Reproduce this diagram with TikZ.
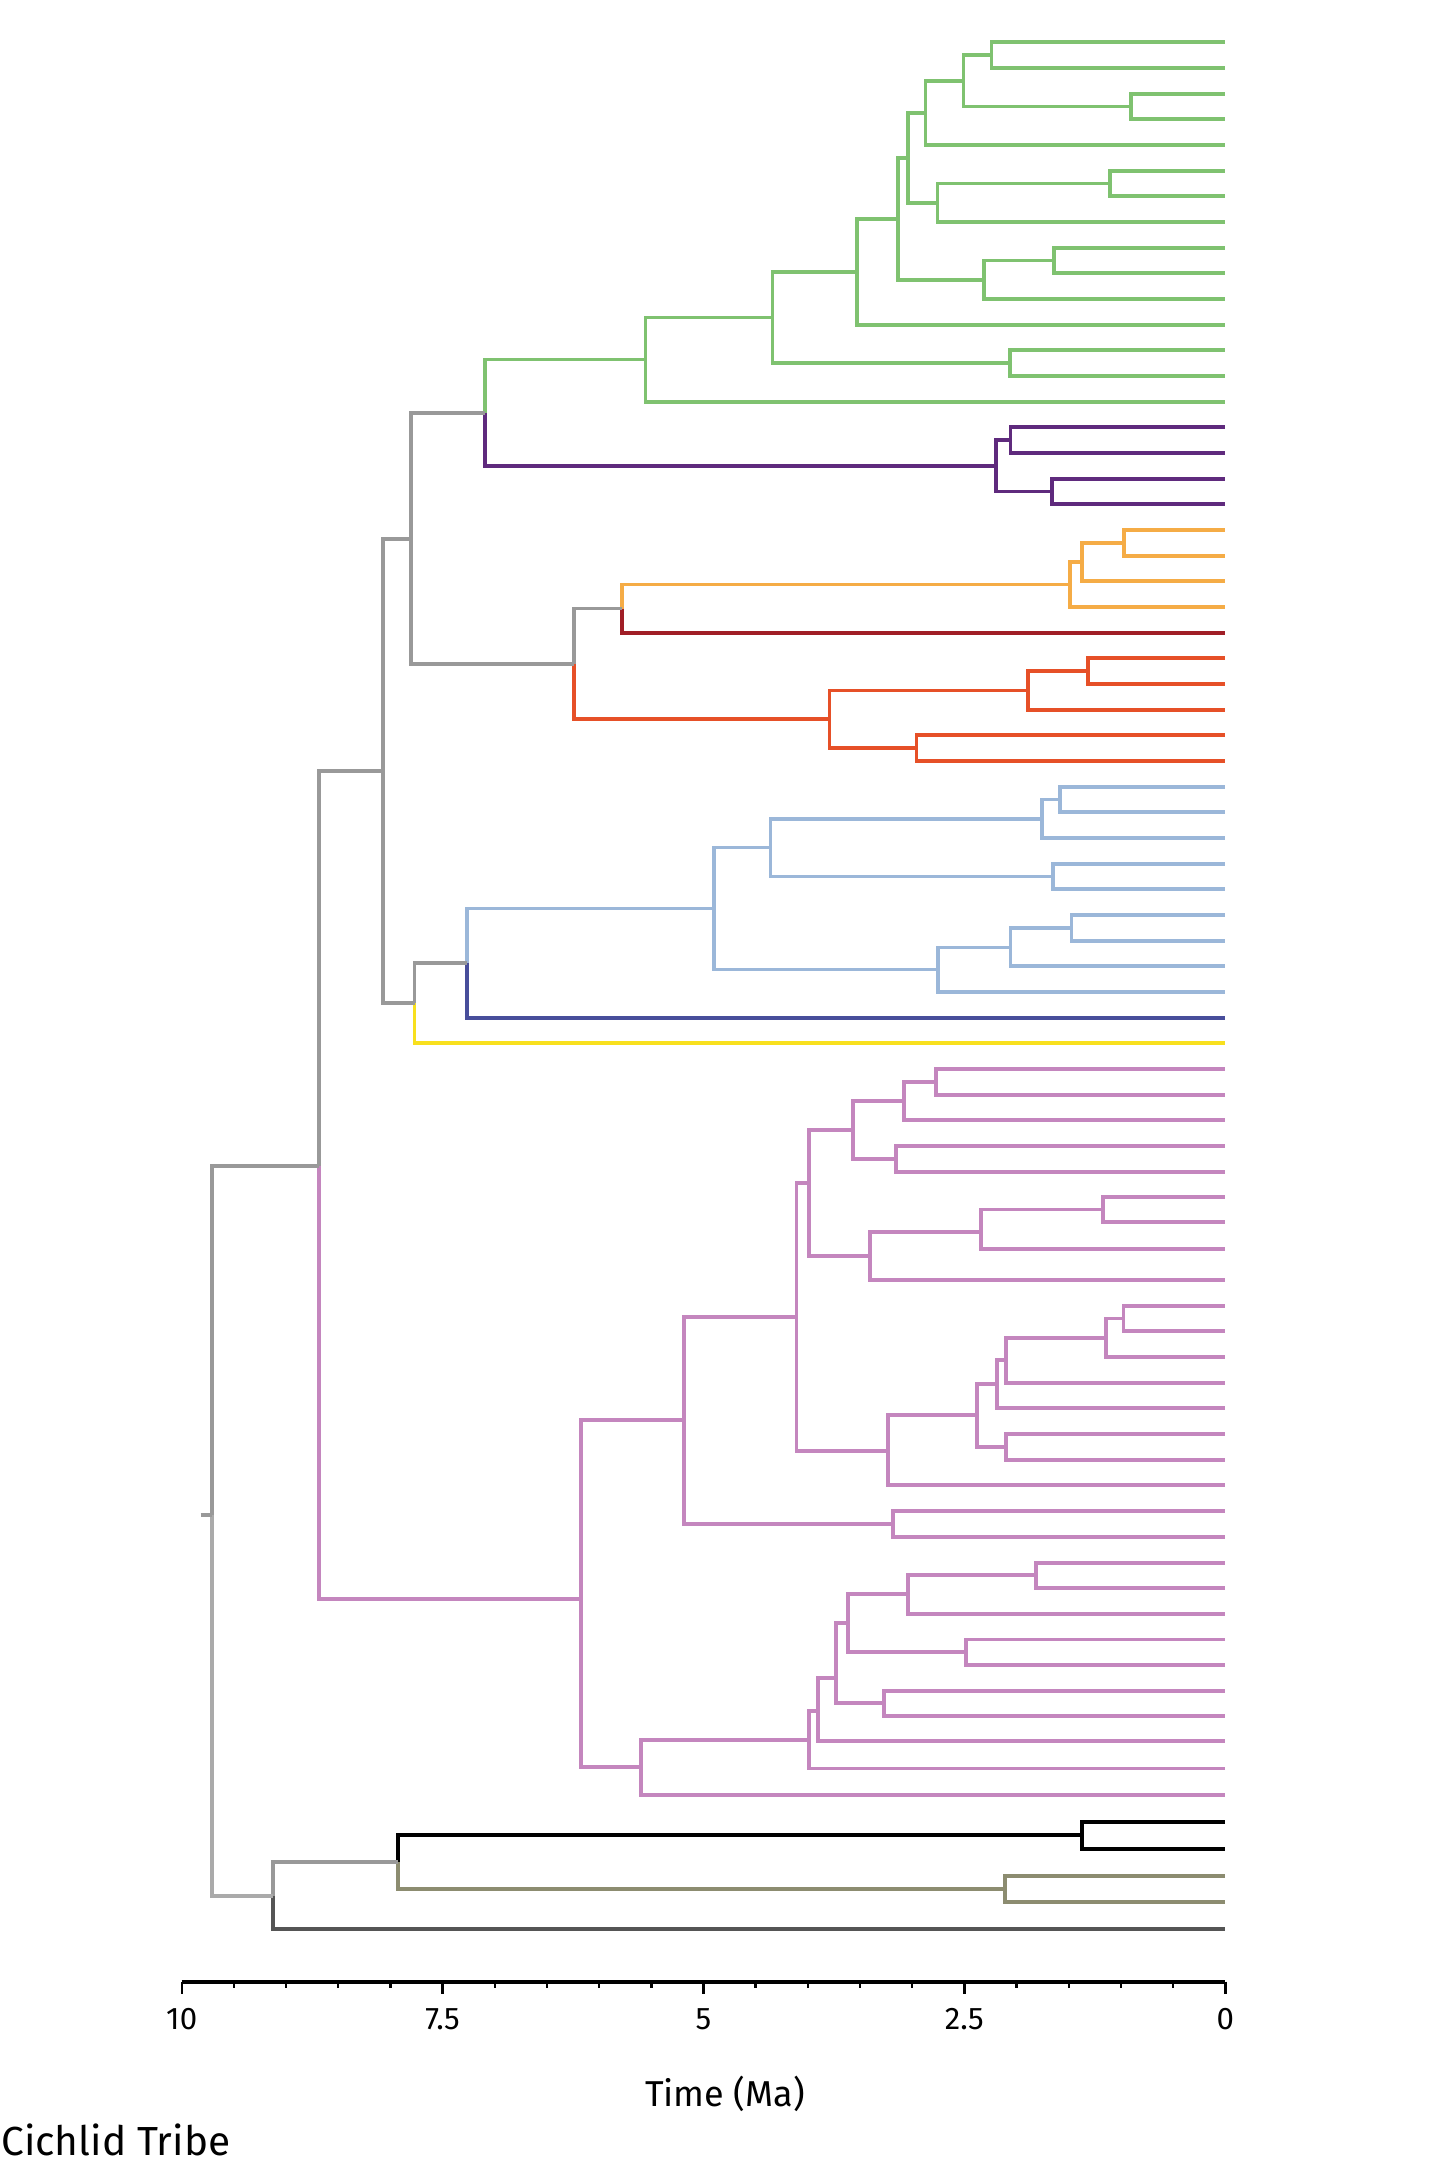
\documentclass[tikz,border=0pt]{standalone}
\usepackage{fontspec}
\setmainfont{Fira Sans}
\definecolor{tGreen}{RGB}{127,194,112}
\definecolor{tPurple}{RGB}{95,42,125}
\definecolor{tOrange}{RGB}{245,172,70}
\definecolor{tDarkRed}{RGB}{160,30,38}
\definecolor{tRed}{RGB}{230,80,40}
\definecolor{tBlue}{RGB}{155,183,217}
\definecolor{tDarkBlue}{RGB}{72,78,155}
\definecolor{tYellow}{RGB}{248,224,30}
\definecolor{tPink}{RGB}{196,134,190}
\definecolor{tOlive}{RGB}{140,140,112}
\definecolor{tDarkGray}{RGB}{85,85,85}
\definecolor{tGray}{RGB}{153,153,153}
\definecolor{tLightGray}{RGB}{170,170,170}
\definecolor{tBlack}{RGB}{0,0,0}
\newcommand\tbr[3]{\foreach \cc in {#3}{\draw[br,draw=#1] (#2) |- (\cc);}}
\begin{document}
\begin{tikzpicture}[x=0.5pt,y=-0.5pt,
  br/.style={line width=1.85pt},
  axisline/.style={line width=1.9pt,black},
  tickmark/.style={line width=1.2pt,black},
  ticklabel/.style={font=\fontsize{15.6pt}{17pt}\selectfont,anchor=base,inner sep=0pt},
  axistitle/.style={font=\fontsize{18pt}{20pt}\selectfont,anchor=base,inner sep=0pt},
  legendtitle/.style={font=\fontsize{20.3pt}{24pt}\selectfont,anchor=base west,inner sep=0pt}]
\useasboundingbox (0,0) rectangle (1453,2163);
% tips
\foreach \n/\y in {g1/42,g2/68,g3/93.7,g4/119.3,g5/145,g6/170.7,g7/196.3,g8/222,g9/247.7,g10/273.3,g11/299,g12/324.7,g13/350.3,g14/376,g15/401.7,
 p1/427.3,p2/453,p3/478.7,p4/504.3,
 o1/530,o2/555.7,o3/581.3,o4/607,dr/632.7,
 r1/658.3,r2/684,r3/709.7,r4/735.3,r5/761,
 b1/786.7,b2/812.3,b3/838,b4/863.7,b5/889.3,b6/915,b7/940.7,b8/966.3,b9/992,db/1017.7,ye/1043.3,
 m1/1069.3,m2/1094.7,m3/1120.3,m4/1146,m5/1171.7,m6/1196.7,m7/1222.3,m8/1248.7,m9/1280,m10/1305.7,
 m11/1331.3,m12/1357,m13/1382.7,m14/1408.3,m15/1434,m16/1459.7,m17/1485.3,m18/1511,m19/1537,m20/1562.7,
 m21/1588.3,m22/1613.7,m23/1639.5,m24/1665.2,m25/1690.7,m26/1716.2,m27/1741.3,m28/1768.5,m29/1795,
 k1/1822,k2/1848.7,v1/1875.7,v2/1902.3,dg/1929}
 \coordinate (\n) at (1225,\y);
% internal nodes
\foreach \n/\x/\y in {G12/991.6/55,G34/1131.3/106.5,G1234/963.5/80.75,G15/925.6/112.9,G67/1110.2/183.5,
 G678/937.5/202.7,GA/908/157.8,G910/1054/260.5,G911/983.9/279.75,GB/898.2/218.8,GC/856.8/271.7,
 G1314/1009.8/363.2,GD/772.6/317.4,GE/645.5/359.6,Groot/484.8/412.7,
 P12/1010.5/440.2,P34/1052/491.5,Proot/995.8/465.8,
 N1/411.1/538.7,
 O12/1124.2/542.85,O123/1082.1/562,O1234/1070.2/584.5,ODR/621.7/608.6,N2/574/664,
 R12/1087.7/671.2,R123/1028/690.4,R45/916.5/748.2,Rroot/829.4/719.3,
 N3/383/770.8,
 B12/1059.7/799.5,B123/1042.1/818.75,B45/1053.3/876.5,BA/770.5/847.5,B67/1071.6/927.85,
 B678/1010.5/947.5,B6789/938.2/969.5,BB/714.3/908.6,Broot/467.3/963.3,N4/414.6/1003.3,
 N5/319.2/1165.7,
 M12/936/1082,M123/904.3/1101.3,M45/896/1158.8,MA/852.7/1130,M67/1103.2/1209.5,M678/981.3/1232.3,
 M6789/870/1255.7,MB/809.3/1183.3,M1011/1123.6/1318.5,M1012/1106/1338,M1013/1005.7/1360,
 M1014/997.3/1383.7,M1516/1005.7/1446.8,MC/977.3/1415.3,MD/888.3/1450.7,ME/796.5/1316.7,
 M1819/892.7/1524,MF/684.3/1420,M2021/1036/1575,M2022/907.7/1594,M2324/966/1652,MG/848.3/1623.3,
 M2526/884/1703.3,MH/836/1678.3,MI/817.7/1710.7,MJ/809.3/1740,MK/641.3/1767.3,Mroot/581/1599.3,
 K12/1081.8/1835.3,V12/1004.7/1889,KV/398.2/1862,N6/273/1896,Root/212.3/1515,Rootstem/200.7/1515}
 \coordinate (\n) at (\x,\y);
% green
\tbr{tGreen}{G12}{g1,g2}
\tbr{tGreen}{G34}{g3,g4}
\tbr{tGreen}{G1234}{G12,G34}
\tbr{tGreen}{G15}{G1234,g5}
\tbr{tGreen}{G67}{g6,g7}
\tbr{tGreen}{G678}{G67,g8}
\tbr{tGreen}{GA}{G15,G678}
\tbr{tGreen}{G910}{g9,g10}
\tbr{tGreen}{G911}{G910,g11}
\tbr{tGreen}{GB}{GA,G911}
\tbr{tGreen}{GC}{GB,g12}
\tbr{tGreen}{G1314}{g13,g14}
\tbr{tGreen}{GD}{GC,G1314}
\tbr{tGreen}{GE}{GD,g15}
\tbr{tGreen}{Groot}{GE}
% purple
\tbr{tPurple}{P12}{p1,p2}
\tbr{tPurple}{P34}{p3,p4}
\tbr{tPurple}{Proot}{P12,P34}
\tbr{tPurple}{Groot}{Proot}
% orange, dark red, red
\tbr{tOrange}{O12}{o1,o2}
\tbr{tOrange}{O123}{O12,o3}
\tbr{tOrange}{O1234}{O123,o4}
\tbr{tOrange}{ODR}{O1234}
\tbr{tDarkRed}{ODR}{dr}
\tbr{tRed}{R12}{r1,r2}
\tbr{tRed}{R123}{R12,r3}
\tbr{tRed}{R45}{r4,r5}
\tbr{tRed}{Rroot}{R123,R45}
\tbr{tGray}{N2}{ODR}
\tbr{tRed}{N2}{Rroot}
\tbr{tGray}{N1}{Groot,N2}
% blue
\tbr{tBlue}{B12}{b1,b2}
\tbr{tBlue}{B123}{B12,b3}
\tbr{tBlue}{B45}{b4,b5}
\tbr{tBlue}{BA}{B123,B45}
\tbr{tBlue}{B67}{b6,b7}
\tbr{tBlue}{B678}{B67,b8}
\tbr{tBlue}{B6789}{B678,b9}
\tbr{tBlue}{BB}{BA,B6789}
\tbr{tBlue}{Broot}{BB}
\tbr{tDarkBlue}{Broot}{db}
\tbr{tGray}{N4}{Broot}
\tbr{tYellow}{N4}{ye}
\tbr{tGray}{N3}{N1,N4}
% pink
\tbr{tPink}{M12}{m1,m2}
\tbr{tPink}{M123}{M12,m3}
\tbr{tPink}{M45}{m4,m5}
\tbr{tPink}{MA}{M123,M45}
\tbr{tPink}{M67}{m6,m7}
\tbr{tPink}{M678}{M67,m8}
\tbr{tPink}{M6789}{M678,m9}
\tbr{tPink}{MB}{MA,M6789}
\tbr{tPink}{M1011}{m10,m11}
\tbr{tPink}{M1012}{M1011,m12}
\tbr{tPink}{M1013}{M1012,m13}
\tbr{tPink}{M1014}{M1013,m14}
\tbr{tPink}{M1516}{m15,m16}
\tbr{tPink}{MC}{M1014,M1516}
\tbr{tPink}{MD}{MC,m17}
\tbr{tPink}{ME}{MB,MD}
\tbr{tPink}{M1819}{m18,m19}
\tbr{tPink}{MF}{ME,M1819}
\tbr{tPink}{M2021}{m20,m21}
\tbr{tPink}{M2022}{M2021,m22}
\tbr{tPink}{M2324}{m23,m24}
\tbr{tPink}{MG}{M2022,M2324}
\tbr{tPink}{M2526}{m25,m26}
\tbr{tPink}{MH}{MG,M2526}
\tbr{tPink}{MI}{MH,m27}
\tbr{tPink}{MJ}{MI,m28}
\tbr{tPink}{MK}{MJ,m29}
\tbr{tPink}{Mroot}{MF,MK}
\tbr{tGray}{N5}{N3}
\tbr{tPink}{N5}{Mroot}
% bottom clades
\tbr{tBlack}{K12}{k1,k2}
\tbr{tOlive}{V12}{v1,v2}
\tbr{tBlack}{KV}{K12}
\tbr{tOlive}{KV}{V12}
\tbr{tGray}{N6}{KV}
\tbr{tDarkGray}{N6}{dg}
\tbr{tGray}{Root}{N5}
\tbr{tLightGray}{Root}{N6}
\draw[br,draw=tGray] (Rootstem) -- (Root);
% axis
\coordinate (ax0) at (181.7,1981.7);
\coordinate (ax1) at (1225.3,1981.7);
\draw[axisline] (ax0) -- (ax1);
\foreach \i in {0,...,20}{
  \pgfmathsetmacro{\xx}{1225.3-52.18*\i}
  \pgfmathsetmacro{\ll}{ifthenelse(mod(\i,5)==0,12,6)}
  \draw[tickmark] (\xx,1981.7) -- ++(0,\ll);
}
\node[ticklabel] (l10) at (181.7,2029.3) {10};
\node[ticklabel] (l75) at (442.6,2029.3) {7.5};
\node[ticklabel] (l5) at (703.5,2029.3) {5};
\node[ticklabel] (l25) at (964.4,2029.3) {2.5};
\node[ticklabel] (l0) at (1225.3,2029.3) {0};
\node[axistitle] (ttl) at (725,2106.7) {Time (Ma)};
\node[legendtitle] (leg) at (1,2155) {Cichlid Tribe};
\end{tikzpicture}
\end{document}
